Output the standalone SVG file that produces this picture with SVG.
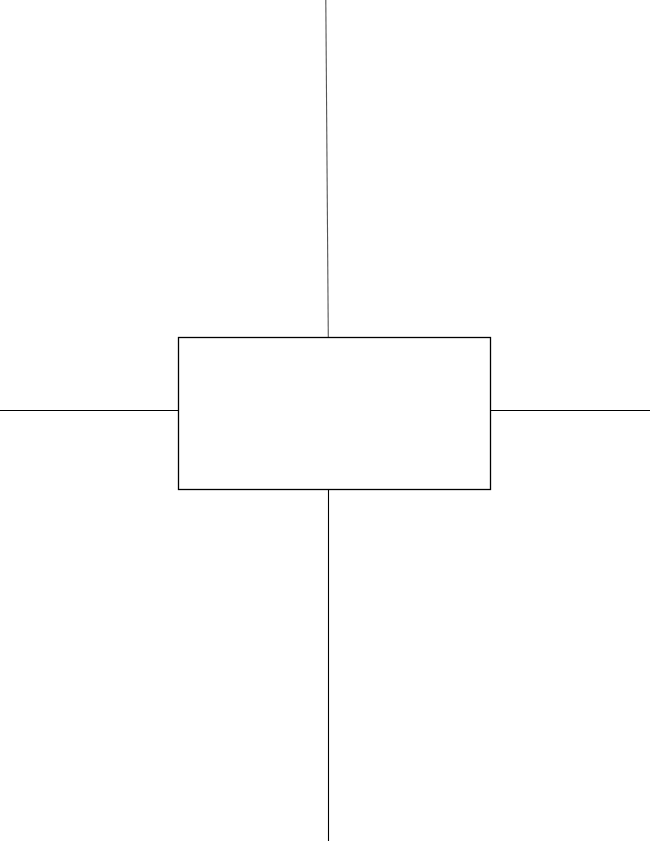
<svg xmlns="http://www.w3.org/2000/svg" width="650" height="841" viewBox="0 0 650 841">
<style>
.node{fill:#fff;stroke:#000;stroke-width:1.3}
.conn{stroke:#000;stroke-width:1.1;fill:none}
</style>
<rect width="650" height="841" fill="#fff"/>
<g id="connectors">
<line class="conn" x1="325.8" y1="0" x2="328.3" y2="337.5" style="stroke:#555"/>
<line class="conn" x1="328.5" y1="489.5" x2="328.5" y2="841"/>
<line class="conn" x1="0" y1="410.5" x2="178.5" y2="410.5"/>
<line class="conn" x1="490.5" y1="410.5" x2="650" y2="410.5"/>
</g>
<g id="node-box">
<rect class="node" x="178.5" y="337.5" width="312" height="152"/>
</g>
</svg>
